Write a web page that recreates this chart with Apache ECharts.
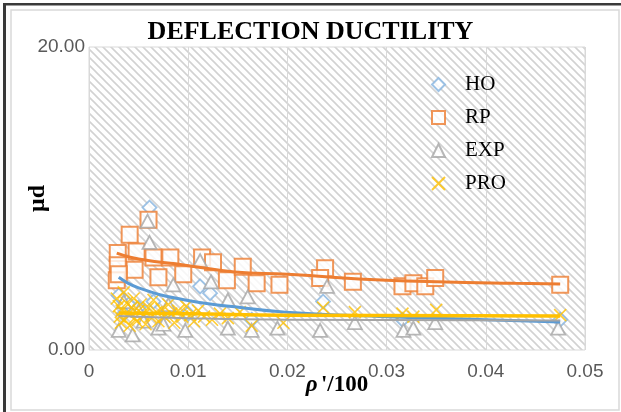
<!DOCTYPE html>
<html>
<head>
<meta charset="utf-8">
<script src="https://cdn.jsdelivr.net/npm/echarts@6/dist/echarts.min.js"></script>
<style>
  html, body { margin: 0; padding: 0; background: #fff; }
  #chart { width: 621px; height: 412px; }
</style>
</head>
<body>
<div id="chart"></div>
<script>
// x ticks of rho'/100
var xTicks = [0, 0.01, 0.02, 0.03, 0.04, 0.05];
var yTicks = [0, 20];

// measured points [rho'/100, mu_d]
var hoPts = [[0.0061,9.4],[0.0112,4.2],[0.0122,3.75],[0.0236,3.2],[0.0030,3.6],[0.0040,3.0],[0.0050,2.8],
  [0.0065,3.2],[0.0080,2.6],[0.0100,2.4],[0.0164,2.0],[0.0316,2.0],[0.0475,2.0],[0.0035,2.4]];
var rpPts = [[0.0060,8.6],[0.0041,7.6],[0.0029,6.4],[0.0048,6.5],[0.0065,6.1],[0.0082,6.1],[0.0114,6.1],
  [0.0125,5.8],[0.0046,5.3],[0.0029,5.6],[0.0070,4.8],[0.0095,5.0],[0.0028,4.6],[0.0030,5.0],[0.0139,4.6],
  [0.0155,5.5],[0.0169,4.4],[0.0192,4.3],[0.0238,5.4],[0.0233,4.75],[0.0266,4.5],[0.0316,4.2],[0.0327,4.4],
  [0.0339,4.2],[0.0349,4.75],[0.0475,4.3]];
var expPts = [[0.0059,8.5],[0.0061,7.1],[0.0085,4.3],[0.0112,5.9],[0.0123,4.5],[0.0140,3.3],[0.0160,3.5],
  [0.0044,1.0],[0.0030,1.3],[0.0070,1.45],[0.0097,1.3],[0.0140,1.45],[0.0164,1.3],[0.0190,1.45],[0.0240,4.2],
  [0.0233,1.3],[0.0268,1.8],[0.0317,1.3],[0.0327,1.45],[0.0349,1.8],[0.0473,1.45],[0.0035,3.2],[0.0050,2.6],
  [0.0080,3.0],[0.0075,1.7],[0.0055,1.9]];
var proPts = [[0.0028,3.4],[0.0030,2.9],[0.0031,2.2],[0.0032,1.8],[0.0033,2.6],[0.0035,3.8],[0.0036,2.0],
  [0.0038,3.1],[0.0040,2.4],[0.0041,1.6],[0.0043,2.8],[0.0045,3.4],[0.0046,2.1],[0.0048,1.9],[0.0050,2.6],
  [0.0052,3.0],[0.0055,2.3],[0.0057,1.7],[0.0060,2.8],[0.0062,2.2],[0.0065,3.3],[0.0068,2.5],[0.0070,1.9],
  [0.0073,2.7],[0.0076,2.2],[0.0080,3.0],[0.0083,2.4],[0.0086,1.8],[0.0090,2.6],[0.0094,2.2],[0.0098,2.9],
  [0.0102,2.3],[0.0106,1.9],[0.0110,2.6],[0.0116,2.2],[0.0124,2.0],[0.0132,2.4],[0.0140,2.1],[0.0152,2.5],
  [0.0164,1.6],[0.0196,1.8],[0.0236,2.8],[0.0268,2.5],[0.0316,2.4],[0.0350,2.65],[0.0475,2.3],[0.0327,2.2]];

// trend lines
var hoTrend = [[0.003,4.8],[0.005,4.1],[0.0097,3.3],[0.0147,2.85],[0.0198,2.5],[0.03,2.2],[0.04,2.0],[0.0475,1.85]];
var rpTrend = [[0.0028,6.4],[0.005,6.0],[0.0097,5.6],[0.0147,5.15],[0.02,5.0],[0.03,4.6],[0.043,4.4],[0.0475,4.35]];
var expTrend = [[0.003,2.25],[0.01,2.1],[0.02,2.0],[0.0475,1.95]];
var proTrend = [[0.003,2.45],[0.01,2.4],[0.02,2.3],[0.0475,2.25]];

// hatch pattern for plot area
var hatch = document.createElement('canvas');
hatch.width = 8; hatch.height = 8;
var hc = hatch.getContext('2d');
hc.fillStyle = '#fff';
hc.fillRect(0, 0, 8, 8);
hc.strokeStyle = '#d2d2d2';
hc.lineWidth = 1.6;
hc.beginPath();
hc.moveTo(-1, -1); hc.lineTo(9, 9);
hc.moveTo(-1, 7); hc.lineTo(1, 9);
hc.moveTo(7, -1); hc.lineTo(9, 1);
hc.stroke();

var chart = echarts.init(document.getElementById('chart'));

function trendLine(name, data, color, width) {
  return {
    name: name, type: 'line', data: data, smooth: true, showSymbol: false,
    lineStyle: { color: color, width: width }, silent: true, z: 5
  };
}

var option = {
  animation: false,
  backgroundColor: '#fff',
  title: {
    text: 'DEFLECTION DUCTILITY',
    left: 'center', top: 14,
    textStyle: { fontFamily: 'Liberation Serif', fontWeight: 'bold', fontSize: 26, color: '#000' }
  },
  legend: {
    orient: 'vertical', left: 426, top: 69,
    itemWidth: 13, itemHeight: 13, itemGap: 12,
    data: ['HO', 'RP', 'EXP', 'PRO'],
    textStyle: { fontFamily: 'Liberation Serif', fontSize: 21, color: '#000', padding: [0, 0, 0, 15] }
  },
  grid: {
    left: 89, right: 36, top: 47, bottom: 62,
    outerBoundsMode: 'none',
    show: true, borderColor: '#d9d9d9', borderWidth: 1,
    backgroundColor: { image: hatch, repeat: 'repeat' }
  },
  xAxis: {
    type: 'value', min: 0, max: 0.05, interval: 0.01,
    name: '{i|ρ} {b|\'/100}', nameLocation: 'middle', nameGap: 24, nameMoveOverlap: false,
    nameTextStyle: {
      rich: {
        i: { fontFamily: 'Liberation Serif', fontWeight: 'bold', fontStyle: 'italic', fontSize: 23, color: '#000' },
        b: { fontFamily: 'Liberation Serif', fontWeight: 'bold', fontSize: 23, color: '#000' }
      }
    },
    axisLine: { show: false }, axisTick: { show: false },
    splitLine: { show: true, lineStyle: { color: '#d9d9d9', width: 1 } },
    axisLabel: {
      margin: 12, fontFamily: 'Liberation Sans', fontSize: 19, color: '#595959',
      formatter: function (v) { return xTicks.indexOf(+v.toFixed(2)) === 0 ? '0' : v.toFixed(2); }
    }
  },
  yAxis: {
    type: 'value', min: yTicks[0], max: yTicks[1], interval: 20,
    name: 'μd', nameLocation: 'middle', nameRotate: 90, nameGap: 39, nameMoveOverlap: false,
    nameTextStyle: { fontFamily: 'Liberation Serif', fontWeight: 'bold', fontSize: 24, color: '#000' },
    axisLine: { show: false }, axisTick: { show: false }, splitLine: { show: false },
    axisLabel: {
      margin: 4, fontFamily: 'Liberation Sans', fontSize: 19, color: '#595959',
      formatter: function (v) { return v.toFixed(2); }
    }
  },
  graphic: [
    { type: 'rect', shape: { x: 11, y: 10, width: 608, height: 400 }, style: { fill: 'none', stroke: '#d9d9d9', lineWidth: 1.5 }, silent: true },
    { type: 'rect', shape: { x: 3, y: 3, width: 3, height: 409 }, style: { fill: '#3a3a3a' }, silent: true },
    { type: 'rect', shape: { x: 3, y: 3, width: 618, height: 2.5 }, style: { fill: '#3a3a3a' }, silent: true }
  ],
  series: [
    {
      name: 'HO', type: 'scatter', data: hoPts, symbol: 'diamond', symbolSize: 14,
      itemStyle: { color: '#fff', borderColor: '#86b4e0', borderWidth: 1.8 }, z: 2
    },
    {
      name: 'RP', type: 'scatter', data: rpPts, symbol: 'rect', symbolSize: 16,
      itemStyle: { color: '#fff', borderColor: '#ed7d31', borderWidth: 2 }, z: 2
    },
    {
      name: 'EXP', type: 'scatter', data: expPts, symbol: 'triangle', symbolSize: [14, 13],
      itemStyle: { color: '#fff', borderColor: '#a5a5a5', borderWidth: 1.8 }, z: 2
    },
    {
      name: 'PRO', type: 'scatter', data: proPts, symbol: 'path://M0,0L10,10M10,0L0,10', symbolSize: 12,
      itemStyle: { color: '#ffc000', borderColor: '#ffc000', borderWidth: 1.6 }, z: 2
    },
    trendLine('hoTrend', hoTrend, '#5b9bd5', 3),
    trendLine('rpTrend', rpTrend, '#ed7d31', 3),
    trendLine('expTrend', expTrend, '#a5a5a5', 2),
    trendLine('proTrend', proTrend, '#ffc000', 3.5)
  ]
};

chart.setOption(option);
</script>
</body>
</html>
